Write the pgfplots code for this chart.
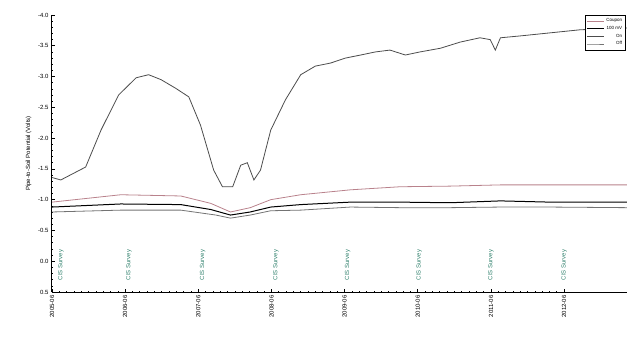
\documentclass[border=0pt]{standalone}
\usepackage{pgfplots}
\pgfplotsset{compat=1.18}
\usepackage{fontspec}
\setmainfont{Liberation Sans}
\definecolor{pinkline}{RGB}{185,130,140}
\definecolor{annot}{RGB}{50,130,110}
\begin{document}
\begin{tikzpicture}
\useasboundingbox (-52pt,-50pt) rectangle (575pt,292pt);
\begin{axis}[
  scale only axis, width=575pt, height=277pt,
  at={(0,0)}, anchor=south west,
  y dir=reverse,
  ymin=-4.0, ymax=0.5,
  xmin=0, xmax=7.86,
  axis x line*=bottom, axis y line*=left,
  ytick={-4.0,-3.5,...,0.5},
  minor y tick num=4,
  xtick={0,1,...,7},
  minor x tick num=9,
  xticklabels={2005-06,2006-06,2007-06,2008-06,2009-06,2010-06,2011-06,2012-06},
  x tick label style={rotate=90, anchor=east, font=\fontsize{6}{7}\selectfont},
  y tick label style={font=\fontsize{6}{7}\selectfont},
  yticklabel style={/pgf/number format/fixed, /pgf/number format/fixed zerofill, /pgf/number format/precision=1},
  /pgf/number format/assume math mode=true,
  ylabel={Pipe-to-Soil Potential (Volts)},
  ylabel style={font=\fontsize{6}{7}\selectfont},
  tick style={black, line width=0.6pt},
  major tick length=3pt, minor tick length=1.5pt,
  axis line style={line width=1pt},
  clip=false,
  legend style={at={(0.998,1.0)}, anchor=north east, font=\fontsize{4.5}{5}\selectfont, draw=black, line width=0.4pt, legend cell align=right, row sep=-1pt, inner sep=1.5pt},
]
\addplot[pinkline, line width=0.8pt] coordinates {
(0,-0.96) (0.94,-1.08) (1.76,-1.06) (2.17,-0.94) (2.44,-0.80) (2.71,-0.87) (2.99,-1.00) (3.40,-1.08) (4.08,-1.16) (4.76,-1.21) (5.44,-1.22) (6.13,-1.24) (6.81,-1.24) (7.86,-1.24)};
\addlegendentry{Coupon}
\addplot[black, line width=1pt] coordinates {
(0,-0.88) (0.94,-0.93) (1.76,-0.92) (2.17,-0.84) (2.44,-0.75) (2.71,-0.80) (2.99,-0.88) (3.40,-0.92) (4.08,-0.96) (4.76,-0.96) (5.44,-0.95) (6.13,-0.98) (6.81,-0.96) (7.86,-0.96)};
\addlegendentry{100 mV}
\addplot[black!70, line width=0.8pt] coordinates {
(0,-1.36) (0.12,-1.32) (0.46,-1.53) (0.67,-2.13) (0.91,-2.70) (1.15,-2.98) (1.32,-3.03) (1.49,-2.95) (1.69,-2.81) (1.87,-2.67) (2.03,-2.21) (2.21,-1.48) (2.33,-1.21) (2.47,-1.21) (2.58,-1.56) (2.67,-1.60) (2.76,-1.32) (2.85,-1.48) (2.99,-2.13) (3.19,-2.62) (3.40,-3.03) (3.60,-3.17) (3.81,-3.22) (4.01,-3.30) (4.22,-3.35) (4.42,-3.40) (4.62,-3.43) (4.83,-3.35) (5.03,-3.40) (5.31,-3.46) (5.58,-3.56) (5.85,-3.63) (5.99,-3.60) (6.06,-3.43) (6.13,-3.63) (6.40,-3.66) (6.81,-3.71) (7.22,-3.76) (7.86,-3.79)};
\addlegendentry{On}
\addplot[black!55, line width=0.8pt] coordinates {
(0,-0.80) (0.94,-0.83) (1.76,-0.83) (2.24,-0.75) (2.44,-0.70) (2.71,-0.75) (2.99,-0.82) (3.40,-0.83) (4.08,-0.88) (4.76,-0.87) (5.44,-0.87) (6.13,-0.88) (6.81,-0.88) (7.86,-0.87)};
\addlegendentry{Off}
\foreach \xx in {0.12,1.05,2.06,3.06,4.04,5.02,6.0,7.0} {
  \edef\tmp{\noexpand\node[rotate=90, text=annot, font=\noexpand\fontsize{6}{7}\noexpand\selectfont, inner sep=0pt] at (axis cs:\xx,0.06) {CIS Survey};}
  \tmp
}
\end{axis}
\end{tikzpicture}
\end{document}
